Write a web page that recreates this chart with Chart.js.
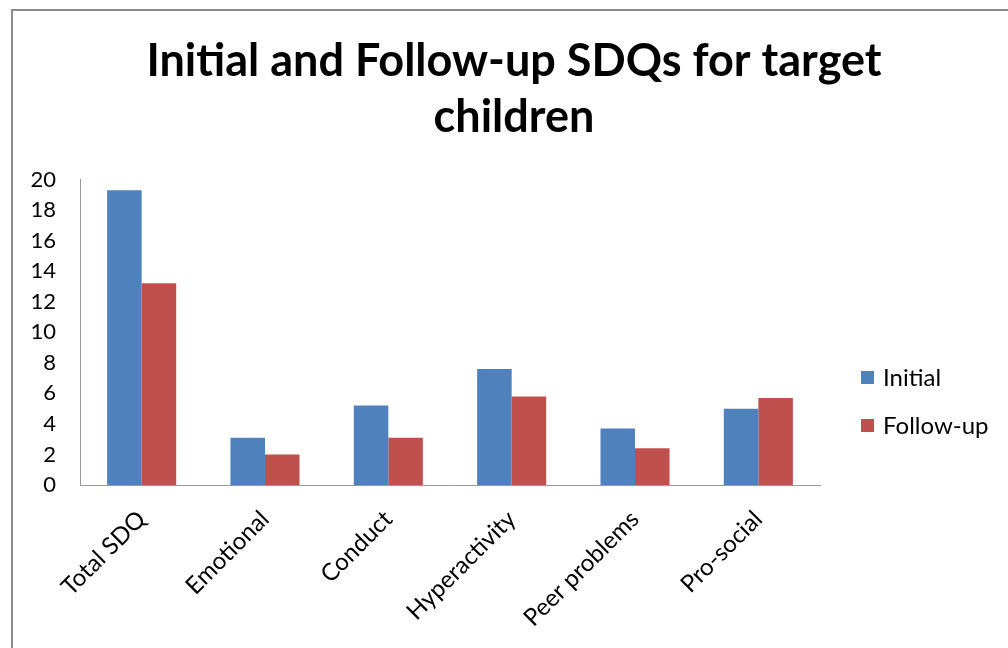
<!DOCTYPE html>
<html>
<head>
<meta charset="utf-8">
<script src="https://cdn.jsdelivr.net/npm/chart.js@4/dist/chart.umd.min.js"></script>
<style>
  html, body { margin: 0; padding: 0; background: #fff; overflow: hidden; width: 1008px; height: 648px; }
  #box { position: absolute; left: 11px; top: 9px; border: 2px solid #8c8c8c; width: 1002px; height: 660px; background: #fff; }
  canvas { display: block; }
</style>
</head>
<body>
<div id="box"><canvas id="c" width="1002" height="637"></canvas></div>
<script>
const categories = ['Total SDQ', 'Emotional', 'Conduct', 'Hyperactivity', 'Peer problems', 'Pro-social'];
const initialValues = [19.3, 3.1, 5.2, 7.6, 3.7, 5.0];
const followUpValues = [13.2, 2.0, 3.1, 5.8, 2.4, 5.7];
const seriesNames = ['Initial', 'Follow-up'];
const seriesColors = ['#4F81BD', '#C0504D'];
const titleLines = ['Initial and Follow-up SDQs for target', 'children'];
const yTicks = { min: 0, max: 20, step: 2 };

const FONT = 'Lato, "Open Sans", sans-serif';

const customLegend = {
  id: 'customLegend',
  afterDraw(chart) {
    const ctx = chart.ctx;
    ctx.save();
    ctx.font = '24px ' + FONT;
    ctx.textBaseline = 'middle';
    ctx.textAlign = 'left';
    chart.data.datasets.forEach((ds, i) => {
      const cy = 367 + i * 48;
      ctx.fillStyle = ds.backgroundColor;
      ctx.fillRect(848, cy - 7, 13, 13);
      ctx.fillStyle = '#000';
      ctx.fillText(ds.label, 870, cy);
    });
    ctx.restore();
  }
};

new Chart(document.getElementById('c'), {
  type: 'bar',
  data: {
    labels: categories,
    datasets: [
      { label: seriesNames[0], data: initialValues, backgroundColor: seriesColors[0], borderWidth: 0 },
      { label: seriesNames[1], data: followUpValues, backgroundColor: seriesColors[1], borderWidth: 0 }
    ]
  },
  options: {
    responsive: false,
    animation: false,
    events: [],
    layout: { padding: 0 },
    datasets: { bar: { categoryPercentage: 0.56, barPercentage: 1.0 } },
    plugins: {
      legend: { display: false },
      tooltip: { enabled: false },
      title: {
        display: true,
        text: titleLines,
        color: '#000',
        font: { family: FONT, size: 45, weight: 'bold', lineHeight: 1.25 },
        padding: { top: 22, bottom: 34 }
      }
    },
    scales: {
      x: {
        grid: { display: false, drawTicks: false, tickLength: 0 },
        border: { display: true, color: '#999', width: 1 },
        ticks: {
          color: '#000',
          font: { family: FONT, size: 24 },
          minRotation: 45, maxRotation: 45,
          padding: 20,
          autoSkip: false
        },
        afterFit(scale) { scale.height = 163; }
      },
      y: {
        min: yTicks.min, max: yTicks.max,
        grid: { display: false, drawTicks: false, tickLength: 0 },
        border: { display: true, color: '#999', width: 1 },
        ticks: {
          stepSize: yTicks.step,
          color: '#000',
          font: { family: FONT, size: 22 },
          padding: 24
        },
        afterFit(scale) { scale.width = 67; }
      },
      yRightSpace: {
        position: 'right',
        display: true,
        min: yTicks.min, max: yTicks.max,
        grid: { display: false, drawTicks: false },
        border: { display: false },
        ticks: { display: false },
        afterFit(scale) { scale.width = 195; }
      }
    }
  },
  plugins: [customLegend]
});
</script>
</body>
</html>
